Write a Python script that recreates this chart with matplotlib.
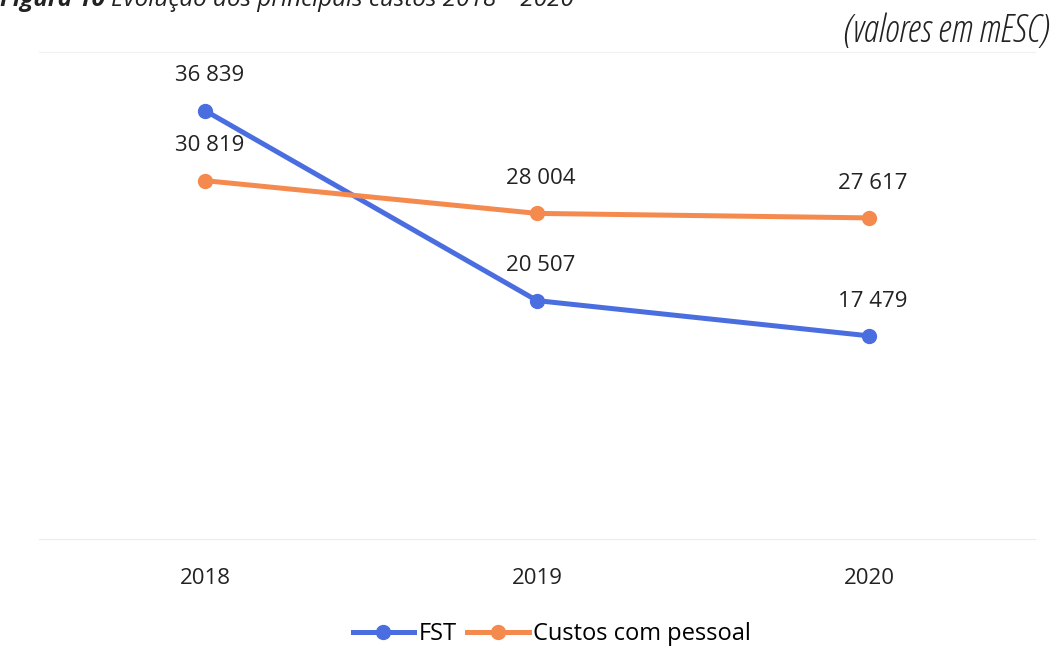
import numpy as np
import matplotlib.pyplot as plt

plt.rcParams["font.family"] = ["Open Sans", "DejaVu Sans"]

# data
years = ["2018", "2019", "2020"]
fst = [36839, 20507, 17479]
pessoal = [30819, 28004, 27617]

def fmt(v):
    return f"{v:,}".replace(",", " ")

fig = plt.figure(figsize=(10.55, 6.69), dpi=100, facecolor="w")
ax = fig.add_axes([0.037, 0.194, 0.944, 0.728])

x = np.arange(len(years))
ax.plot(x, fst, color="#4a6ee0", lw=3.6, marker="o", ms=10, label="FST")
ax.plot(x, pessoal, color="#f58a4f", lw=3.6, marker="o", ms=10, label="Custos com pessoal")

for xi, v in zip(x, fst):
    ax.annotate(fmt(v), (xi, v), xytext=(3, 25), textcoords="offset points",
                ha="center", va="center", fontsize=16, color="#222222")
for xi, v in zip(x, pessoal):
    ax.annotate(fmt(v), (xi, v), xytext=(3, 25), textcoords="offset points",
                ha="center", va="center", fontsize=16, color="#222222")

ax.set_xlim(-0.5, 2.5)
ax.set_ylim(0, 41860)
ax.set_xticks(x)
ax.set_xticklabels(years, fontsize=16, color="#222222")
ax.tick_params(axis="x", length=0, pad=21)
ax.set_yticks([])
for s in ["left", "right"]:
    ax.spines[s].set_visible(False)
ax.spines["top"].set_color("#f0f0f0")
ax.spines["bottom"].set_color("#ececec")

ax.legend(loc="center", bbox_to_anchor=(0.515, -0.195), ncol=2, frameon=False,
          fontsize=17, handlelength=2.6, handletextpad=0.2, columnspacing=0.45)

fig.text(0.995, 0.953, "(valores em mESC)", ha="right", va="center",
         fontsize=27, style="italic", color="#222222", fontstretch="condensed")

# title, partly cut off at the top as in the scan
t1 = fig.text(0.0, 1.0, "Figura 10 ", ha="left", va="center",
              fontsize=17.5, style="italic", fontweight="bold", color="#222222")
fig.canvas.draw()
fig.text(t1.get_window_extent().x1 / fig.bbox.width, 1.0,
         "Evolução dos principais custos 2018 – 2020", ha="left", va="center",
         fontsize=17.5, style="italic", color="#222222")

fig.savefig("out.png", dpi=100)
